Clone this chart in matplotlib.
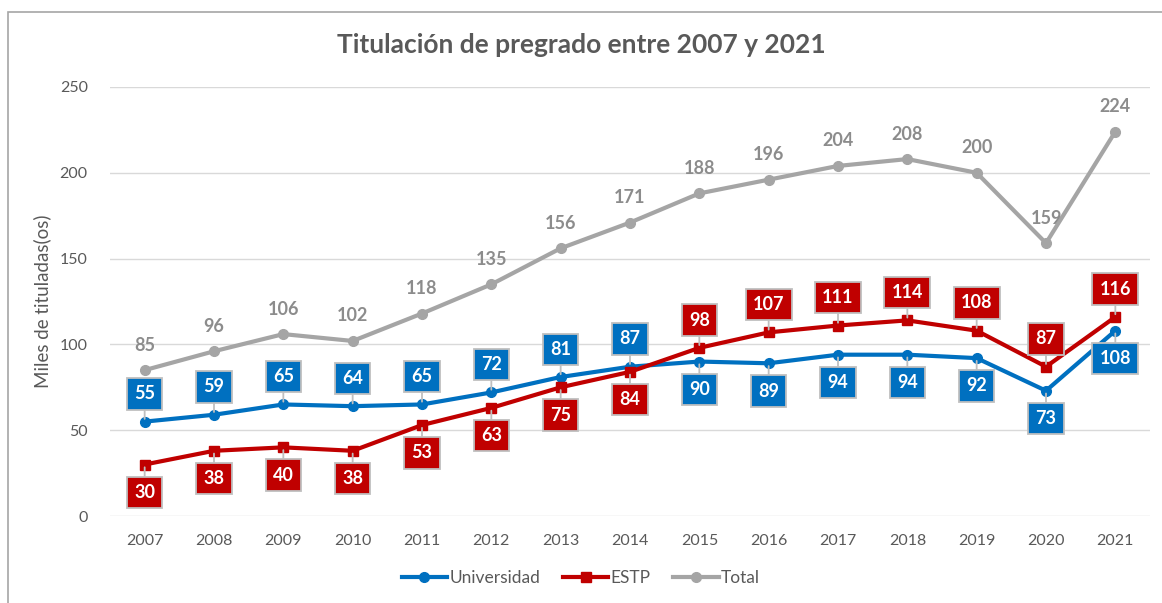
import matplotlib
matplotlib.use("Agg")
import matplotlib.pyplot as plt
from matplotlib.patches import Rectangle

years = ["2007", "2008", "2009", "2010", "2011", "2012", "2013", "2014",
         "2015", "2016", "2017", "2018", "2019", "2020", "2021"]
universidad = [55, 59, 65, 64, 65, 72, 81, 87, 90, 89, 94, 94, 92, 73, 108]
estp = [30, 38, 40, 38, 53, 63, 75, 84, 98, 107, 111, 114, 108, 87, 116]
total = [85, 96, 106, 102, 118, 135, 156, 171, 188, 196, 204, 208, 200, 159, 224]

# label placement: +1 above, -1 below
uni_pos = [1, 1, 1, 1, 1, 1, 1, 1, -1, -1, -1, -1, -1, -1, -1]
estp_pos = [-1, -1, -1, -1, -1, -1, -1, -1, 1, 1, 1, 1, 1, 1, 1]

plt.rcParams['font.family'] = ['Lato', 'DejaVu Sans']

C_UNI = "#0070C0"
C_ESTP = "#C00000"
C_TOT = "#A5A5A5"
C_TXT = "#595959"

fig = plt.figure(figsize=(11.62, 6.03), dpi=100)
ax = fig.add_axes([110/1162, 1-516/603, 1040/1162, (516-87)/603])

x = list(range(len(years)))
ax.plot(x, universidad, color=C_UNI, lw=3, marker='o', ms=7, label="Universidad", zorder=4)
ax.plot(x, estp, color=C_ESTP, lw=3, marker='s', ms=7, label="ESTP", zorder=4)
ax.plot(x, total, color=C_TOT, lw=3, marker='o', ms=7, label="Total", zorder=3)

ax.set_xlim(-0.5, len(years) - 0.5)
ax.set_ylim(0, 250)
ax.set_yticks([0, 50, 100, 150, 200, 250])
ax.set_xticks(x)
ax.set_xticklabels(years)
ax.grid(axis='y', color="#D9D9D9", lw=1)
ax.set_axisbelow(True)
for s in ax.spines.values():
    s.set_visible(False)
ax.tick_params(length=0, labelsize=11.5, colors=C_TXT, pad=13)
ax.tick_params(axis='y', pad=16)
ax.set_ylabel("Miles de tituladas(os)", fontsize=13.5, color=C_TXT, labelpad=6)

for xi, v in zip(x, total):
    ax.annotate(str(v), (xi, v), xytext=(0, 18), textcoords='offset points',
                ha='center', va='center', fontsize=13, fontweight='bold', color="#8C8C8C")

def callout(xi, v, pos, color):
    ax.annotate(str(v), (xi, v), xytext=(0, 20 * pos), textcoords='offset points',
                ha='center', va='center', fontsize=13, fontweight='bold', color='white',
                bbox=dict(boxstyle='square,pad=0.4', fc=color, ec="#BFBFBF", lw=1.3),
                arrowprops=dict(arrowstyle='-', color="#BFBFBF", lw=1.3, shrinkA=0, shrinkB=2),
                zorder=6)

for xi, v, p in zip(x, universidad, uni_pos):
    callout(xi, v, p, C_UNI)
for xi, v, p in zip(x, estp, estp_pos):
    callout(xi, v, p, C_ESTP)

fig.text(0.5, 1-45/603, "Titulación de pregrado entre 2007 y 2021", ha='center', va='center',
         fontsize=19, fontweight='bold', color=C_TXT)

leg = fig.legend(loc='center', bbox_to_anchor=(0.5, 1-578/603), ncol=3, frameon=False,
                 fontsize=12.5, handlelength=2.6, columnspacing=1.3, handletextpad=0.15)
for t in leg.get_texts():
    t.set_color(C_TXT)

fig.patches.append(Rectangle((8/1162, -0.1), 1.2, 1-12/603 + 0.1, transform=fig.transFigure,
                             fill=False, ec="#A6A6A6", lw=1.2, zorder=0))

fig.savefig("out.png", dpi=100)
